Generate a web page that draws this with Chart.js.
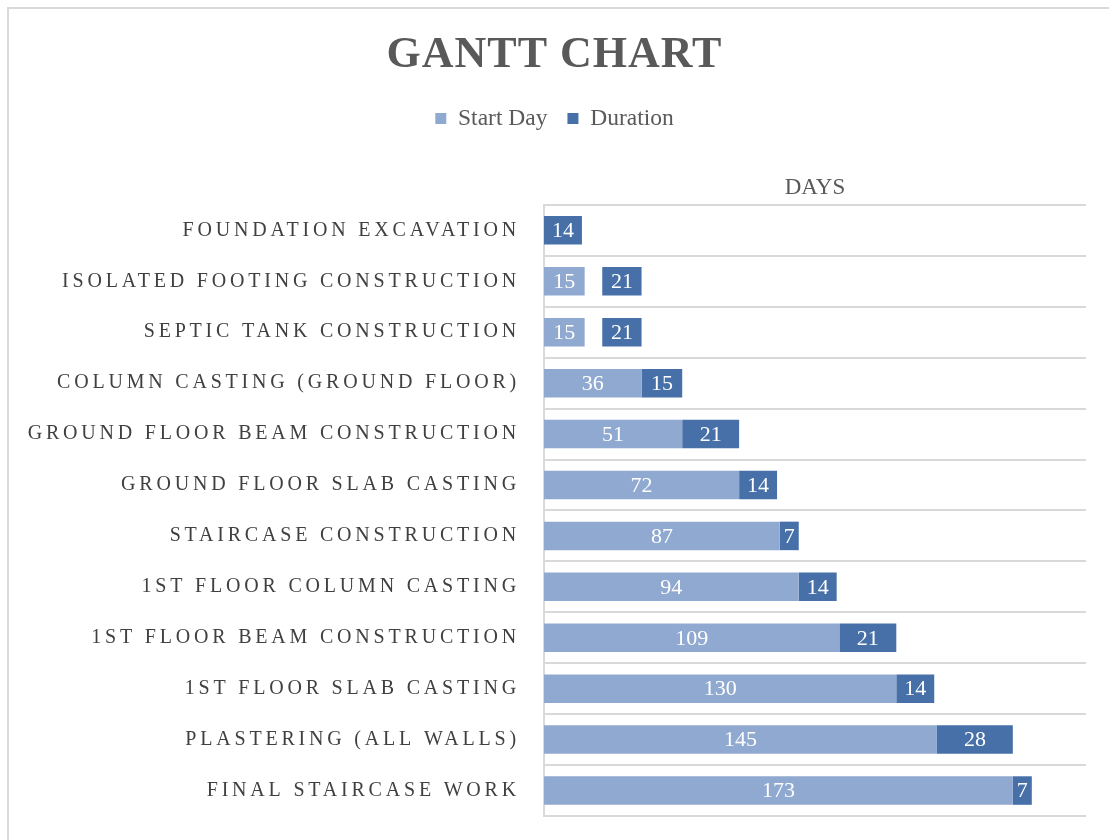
<!DOCTYPE html>
<html>
<head>
<meta charset="utf-8">
<script src="https://cdn.jsdelivr.net/npm/chart.js@4.4.1/dist/chart.umd.min.js"></script>
<style>
  html, body { margin: 0; padding: 0; background: #fff; overflow: hidden; }
  #wrap { position: relative; width: 1109px; height: 840px; }
  #frame { position: absolute; left: 7px; top: 7px; width: 1120px; height: 860px; border: 2px solid #d9d9d9; box-sizing: border-box; }
  #box { position: absolute; left: 0; top: 0; width: 1109px; height: 840px; }
</style>
</head>
<body>
<div id="wrap">
  <div id="frame"></div>
  <div id="box"><canvas id="ganttChart"></canvas></div>
</div>
<script>
const tasks = [
  "FOUNDATION EXCAVATION",
  "ISOLATED FOOTING CONSTRUCTION",
  "SEPTIC TANK CONSTRUCTION",
  "COLUMN CASTING (GROUND FLOOR)",
  "GROUND FLOOR BEAM CONSTRUCTION",
  "GROUND FLOOR SLAB CASTING",
  "STAIRCASE CONSTRUCTION",
  "1ST FLOOR COLUMN CASTING",
  "1ST FLOOR BEAM CONSTRUCTION",
  "1ST FLOOR SLAB CASTING",
  "PLASTERING (ALL WALLS)",
  "FINAL STAIRCASE WORK"
];
const startDay = [0, 15, 15, 36, 51, 72, 87, 94, 109, 130, 145, 173];
// rows 2 and 3 show a blank gap before the dark bar in the picture
const gapDays = [0, 6.5, 6.5, 0, 0, 0, 0, 0, 0, 0, 0, 0];
const durationBar = [14, 14.5, 14.5, 15, 21, 14, 7, 14, 21, 14, 28, 7];
const durationLabel = [14, 21, 21, 15, 21, 14, 7, 14, 21, 14, 28, 7];

const FONT = "'Liberation Serif', 'Times New Roman', serif";
Chart.defaults.font.family = FONT;

// letter spacing for the category labels and title
const spacing = {
  id: "spacing",
  afterLayout(chart) {
    const y = chart.scales.y;
    if (y && !y._spaced) {
      const orig = y.drawLabels;
      y.drawLabels = function (area) {
        const c = this.ctx;
        c.save();
        c.letterSpacing = "3.8px";
        orig.call(this, area);
        c.restore();
      };
      y._spaced = true;
    }
    const t = chart.titleBlock;
    if (t && !t._spaced) {
      const origT = t.draw;
      t.draw = function () {
        const c = this.ctx;
        c.save();
        c.letterSpacing = "1px";
        origT.call(this);
        c.restore();
      };
      t._spaced = true;
    }
  }
};

const barLabels = {
  id: "barLabels",
  afterDatasetsDraw(chart) {
    const c = chart.ctx;
    c.save();
    c.font = "22px " + FONT;
    c.fillStyle = "#ffffff";
    c.textAlign = "center";
    c.textBaseline = "middle";
    const sets = [[0, startDay], [2, durationLabel]];
    sets.forEach(([di, vals]) => {
      const meta = chart.getDatasetMeta(di);
      meta.data.forEach((el, i) => {
        if (!vals[i]) return;
        const p = el.getProps(["x", "y", "base"], true);
        c.fillText(String(vals[i]), (p.x + p.base) / 2, p.y + 1);
      });
    });
    c.restore();
  }
};

new Chart(document.getElementById("ganttChart"), {
  type: "bar",
  data: {
    labels: tasks,
    datasets: [
      { label: "Start Day", data: startDay, backgroundColor: "#90A9D0" },
      { label: "gap", data: gapDays, backgroundColor: "rgba(0,0,0,0)" },
      { label: "Duration", data: durationBar, backgroundColor: "#4670A7" }
    ]
  },
  options: {
    indexAxis: "y",
    responsive: true,
    maintainAspectRatio: false,
    animation: false,
    categoryPercentage: 1,
    barPercentage: 0.56,
    layout: { padding: { left: 23, right: 23, top: 0, bottom: 24 } },
    plugins: {
      tooltip: { enabled: false },
      title: {
        display: true,
        text: "GANTT CHART",
        color: "#595959",
        font: { size: 44, weight: "bold", family: FONT },
        padding: { top: 29, bottom: 5 }
      },
      legend: {
        position: "top",
        labels: {
          color: "#595959",
          font: { size: 23.5, family: FONT },
          boxWidth: 11,
          boxHeight: 11,
          padding: 20,
          filter: (item) => item.text !== "gap"
        }
      }
    },
    scales: {
      x: {
        position: "top",
        stacked: true,
        min: 0,
        max: 200,
        grid: { display: false, drawTicks: false },
        border: { display: false },
        ticks: { display: false },
        title: {
          display: true,
          text: "DAYS",
          color: "#595959",
          font: { size: 23, family: FONT },
          padding: { top: 34, bottom: 3 }
        }
      },
      y: {
        stacked: true,
        afterFit(scale) {
          scale.width = 521;
          scale.paddingTop = 0;
          scale.paddingBottom = 0;
        },
        grid: { color: "#d9d9d9", lineWidth: 2, drawTicks: false },
        border: { color: "#d9d9d9", width: 2 },
        ticks: { color: "#404040", font: { size: 20, family: FONT }, padding: 24 }
      }
    }
  },
  plugins: [spacing, barLabels]
});
</script>
</body>
</html>
